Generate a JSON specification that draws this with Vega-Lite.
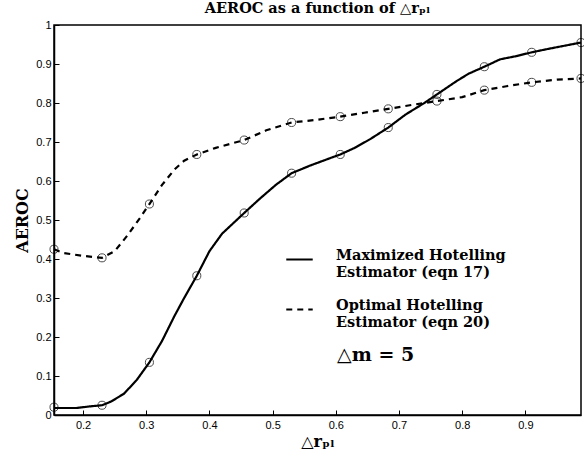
{
  "$schema": "https://vega.github.io/schema/vega-lite/v6.json",
  "width": 527,
  "height": 390,
  "autosize": {"type": "none"},
  "padding": {"left": 54, "top": 25, "right": 3, "bottom": 42},
  "background": "white",
  "config": {
    "view": {"stroke": "black", "strokeWidth": 1.5},
    "axis": {
      "domainColor": "black", "tickColor": "black", "labelColor": "black",
      "labelFont": "Liberation Sans", "labelFontSize": 11, "grid": false,
      "ticks": true, "tickSize": -5, "tickWidth": 1, "domainWidth": 1.5, "labelOverlap": false, "zindex": 1
    }
  },
  "title": {
    "text": "AEROC as a function of △rₚₗ",
    "font": "DejaVu Serif", "fontSize": 14.5, "fontWeight": "bold", "color": "black", "offset": 3
  },
  "datasets": {
    "curve": [
      {"x": 0.154, "y": 0.018, "series": "Maximized Hotelling Estimator (eqn 17)"},
      {"x": 0.19, "y": 0.018, "series": "Maximized Hotelling Estimator (eqn 17)"},
      {"x": 0.21, "y": 0.022, "series": "Maximized Hotelling Estimator (eqn 17)"},
      {"x": 0.23, "y": 0.025, "series": "Maximized Hotelling Estimator (eqn 17)"},
      {"x": 0.245, "y": 0.035, "series": "Maximized Hotelling Estimator (eqn 17)"},
      {"x": 0.265, "y": 0.055, "series": "Maximized Hotelling Estimator (eqn 17)"},
      {"x": 0.285, "y": 0.09, "series": "Maximized Hotelling Estimator (eqn 17)"},
      {"x": 0.305, "y": 0.135, "series": "Maximized Hotelling Estimator (eqn 17)"},
      {"x": 0.325, "y": 0.19, "series": "Maximized Hotelling Estimator (eqn 17)"},
      {"x": 0.345, "y": 0.255, "series": "Maximized Hotelling Estimator (eqn 17)"},
      {"x": 0.36, "y": 0.3, "series": "Maximized Hotelling Estimator (eqn 17)"},
      {"x": 0.38, "y": 0.357, "series": "Maximized Hotelling Estimator (eqn 17)"},
      {"x": 0.40, "y": 0.42, "series": "Maximized Hotelling Estimator (eqn 17)"},
      {"x": 0.42, "y": 0.465, "series": "Maximized Hotelling Estimator (eqn 17)"},
      {"x": 0.455, "y": 0.518, "series": "Maximized Hotelling Estimator (eqn 17)"},
      {"x": 0.48, "y": 0.555, "series": "Maximized Hotelling Estimator (eqn 17)"},
      {"x": 0.505, "y": 0.59, "series": "Maximized Hotelling Estimator (eqn 17)"},
      {"x": 0.53, "y": 0.62, "series": "Maximized Hotelling Estimator (eqn 17)"},
      {"x": 0.56, "y": 0.64, "series": "Maximized Hotelling Estimator (eqn 17)"},
      {"x": 0.59, "y": 0.658, "series": "Maximized Hotelling Estimator (eqn 17)"},
      {"x": 0.607, "y": 0.668, "series": "Maximized Hotelling Estimator (eqn 17)"},
      {"x": 0.63, "y": 0.685, "series": "Maximized Hotelling Estimator (eqn 17)"},
      {"x": 0.655, "y": 0.708, "series": "Maximized Hotelling Estimator (eqn 17)"},
      {"x": 0.683, "y": 0.737, "series": "Maximized Hotelling Estimator (eqn 17)"},
      {"x": 0.71, "y": 0.77, "series": "Maximized Hotelling Estimator (eqn 17)"},
      {"x": 0.74, "y": 0.8, "series": "Maximized Hotelling Estimator (eqn 17)"},
      {"x": 0.76, "y": 0.822, "series": "Maximized Hotelling Estimator (eqn 17)"},
      {"x": 0.79, "y": 0.855, "series": "Maximized Hotelling Estimator (eqn 17)"},
      {"x": 0.81, "y": 0.875, "series": "Maximized Hotelling Estimator (eqn 17)"},
      {"x": 0.835, "y": 0.893, "series": "Maximized Hotelling Estimator (eqn 17)"},
      {"x": 0.86, "y": 0.912, "series": "Maximized Hotelling Estimator (eqn 17)"},
      {"x": 0.885, "y": 0.92, "series": "Maximized Hotelling Estimator (eqn 17)"},
      {"x": 0.91, "y": 0.93, "series": "Maximized Hotelling Estimator (eqn 17)"},
      {"x": 0.94, "y": 0.94, "series": "Maximized Hotelling Estimator (eqn 17)"},
      {"x": 0.988, "y": 0.955, "series": "Maximized Hotelling Estimator (eqn 17)"},
      {"x": 0.154, "y": 0.425, "series": "Optimal Hotelling Estimator (eqn 20)"},
      {"x": 0.17, "y": 0.415, "series": "Optimal Hotelling Estimator (eqn 20)"},
      {"x": 0.20, "y": 0.408, "series": "Optimal Hotelling Estimator (eqn 20)"},
      {"x": 0.23, "y": 0.403, "series": "Optimal Hotelling Estimator (eqn 20)"},
      {"x": 0.25, "y": 0.42, "series": "Optimal Hotelling Estimator (eqn 20)"},
      {"x": 0.27, "y": 0.46, "series": "Optimal Hotelling Estimator (eqn 20)"},
      {"x": 0.29, "y": 0.505, "series": "Optimal Hotelling Estimator (eqn 20)"},
      {"x": 0.305, "y": 0.541, "series": "Optimal Hotelling Estimator (eqn 20)"},
      {"x": 0.325, "y": 0.59, "series": "Optimal Hotelling Estimator (eqn 20)"},
      {"x": 0.345, "y": 0.63, "series": "Optimal Hotelling Estimator (eqn 20)"},
      {"x": 0.36, "y": 0.652, "series": "Optimal Hotelling Estimator (eqn 20)"},
      {"x": 0.38, "y": 0.668, "series": "Optimal Hotelling Estimator (eqn 20)"},
      {"x": 0.41, "y": 0.685, "series": "Optimal Hotelling Estimator (eqn 20)"},
      {"x": 0.455, "y": 0.705, "series": "Optimal Hotelling Estimator (eqn 20)"},
      {"x": 0.49, "y": 0.73, "series": "Optimal Hotelling Estimator (eqn 20)"},
      {"x": 0.53, "y": 0.75, "series": "Optimal Hotelling Estimator (eqn 20)"},
      {"x": 0.57, "y": 0.757, "series": "Optimal Hotelling Estimator (eqn 20)"},
      {"x": 0.607, "y": 0.765, "series": "Optimal Hotelling Estimator (eqn 20)"},
      {"x": 0.645, "y": 0.775, "series": "Optimal Hotelling Estimator (eqn 20)"},
      {"x": 0.683, "y": 0.785, "series": "Optimal Hotelling Estimator (eqn 20)"},
      {"x": 0.72, "y": 0.795, "series": "Optimal Hotelling Estimator (eqn 20)"},
      {"x": 0.76, "y": 0.805, "series": "Optimal Hotelling Estimator (eqn 20)"},
      {"x": 0.80, "y": 0.815, "series": "Optimal Hotelling Estimator (eqn 20)"},
      {"x": 0.835, "y": 0.833, "series": "Optimal Hotelling Estimator (eqn 20)"},
      {"x": 0.87, "y": 0.843, "series": "Optimal Hotelling Estimator (eqn 20)"},
      {"x": 0.91, "y": 0.853, "series": "Optimal Hotelling Estimator (eqn 20)"},
      {"x": 0.95, "y": 0.86, "series": "Optimal Hotelling Estimator (eqn 20)"},
      {"x": 0.988, "y": 0.863, "series": "Optimal Hotelling Estimator (eqn 20)"}
    ],
    "markers": [
      {"x": 0.154, "y": 0.02}, {"x": 0.23, "y": 0.025}, {"x": 0.305, "y": 0.135},
      {"x": 0.38, "y": 0.357}, {"x": 0.455, "y": 0.518}, {"x": 0.53, "y": 0.62},
      {"x": 0.607, "y": 0.668}, {"x": 0.683, "y": 0.737}, {"x": 0.76, "y": 0.822},
      {"x": 0.835, "y": 0.893}, {"x": 0.91, "y": 0.93}, {"x": 0.988, "y": 0.955},
      {"x": 0.154, "y": 0.425}, {"x": 0.23, "y": 0.403}, {"x": 0.305, "y": 0.541},
      {"x": 0.38, "y": 0.668}, {"x": 0.455, "y": 0.705}, {"x": 0.53, "y": 0.75},
      {"x": 0.607, "y": 0.765}, {"x": 0.683, "y": 0.785}, {"x": 0.76, "y": 0.805},
      {"x": 0.835, "y": 0.833}, {"x": 0.91, "y": 0.853}, {"x": 0.988, "y": 0.863}
    ],
    "note": [{"x": 0.602, "y": 0.155, "label": "△m = 5"}]
  },
  "encoding": {
    "x": {
      "field": "x", "type": "quantitative",
      "scale": {"domain": [0.154, 0.988], "nice": false, "zero": false},
      "axis": {
        "values": [0.2, 0.3, 0.4, 0.5, 0.6, 0.7, 0.8, 0.9], "format": ".1f", "labelOverlap": false,
        "ticks": true, "tickSize": -5, "tickColor": "black",
        "title": "△rₚₗ", "titleFont": "DejaVu Serif", "titleFontSize": 16,
        "titleFontWeight": "bold", "titleColor": "black", "labelPadding": 9, "titlePadding": 3
      }
    },
    "y": {
      "field": "y", "type": "quantitative",
      "scale": {"domain": [0, 1], "nice": false},
      "axis": {
        "values": [0, 0.1, 0.2, 0.3, 0.4, 0.5, 0.6, 0.7, 0.8, 0.9, 1], "labelOverlap": false,
        "format": ".1~f", "ticks": true, "tickSize": -5, "tickColor": "black",
        "title": "AEROC", "titleFont": "DejaVu Serif", "titleFontSize": 16,
        "titleFontWeight": "bold", "titleColor": "black", "labelPadding": 8, "titlePadding": 5
      }
    }
  },
  "layer": [
    {
      "data": {"name": "curve"},
      "mark": {"type": "line", "color": "black", "strokeWidth": 2.2},
      "encoding": {
        "strokeDash": {
          "field": "series", "type": "nominal",
          "scale": {
            "domain": ["Maximized Hotelling Estimator (eqn 17)", "Optimal Hotelling Estimator (eqn 20)"],
            "range": [[1, 0], [6, 5]]
          },
          "legend": {
            "orient": "none", "legendX": 231, "legendY": 220, "title": null,
            "symbolType": "stroke", "symbolStrokeColor": "black", "symbolStrokeWidth": 2.2,
            "symbolSize": 700, "labelOffset": 22, "rowPadding": 16,
            "labelFont": "DejaVu Serif", "labelFontSize": 14.5, "labelFontWeight": "bold",
            "labelColor": "black", "labelLimit": 300, "labelBaseline": "alphabetic",
            "labelExpr": "[slice(datum.label, 0, indexof(datum.label, ' Estimator')), slice(datum.label, indexof(datum.label, ' Estimator') + 1)]",
            "encode": {"labels": {"update": {"lineHeight": {"value": 17}}}}
          }
        },
        "detail": {"field": "series", "type": "nominal"}
      }
    },
    {
      "data": {"name": "markers"},
      "mark": {"type": "point", "shape": "circle", "filled": false, "color": "black", "size": 65, "strokeWidth": 1}
    },
    {
      "data": {"name": "note"},
      "mark": {"type": "text", "align": "left", "baseline": "middle",
               "font": "DejaVu Serif", "fontSize": 19, "fontWeight": "bold", "color": "black"},
      "encoding": {
        "text": {"field": "label", "type": "nominal"}
      }
    }
  ]
}
